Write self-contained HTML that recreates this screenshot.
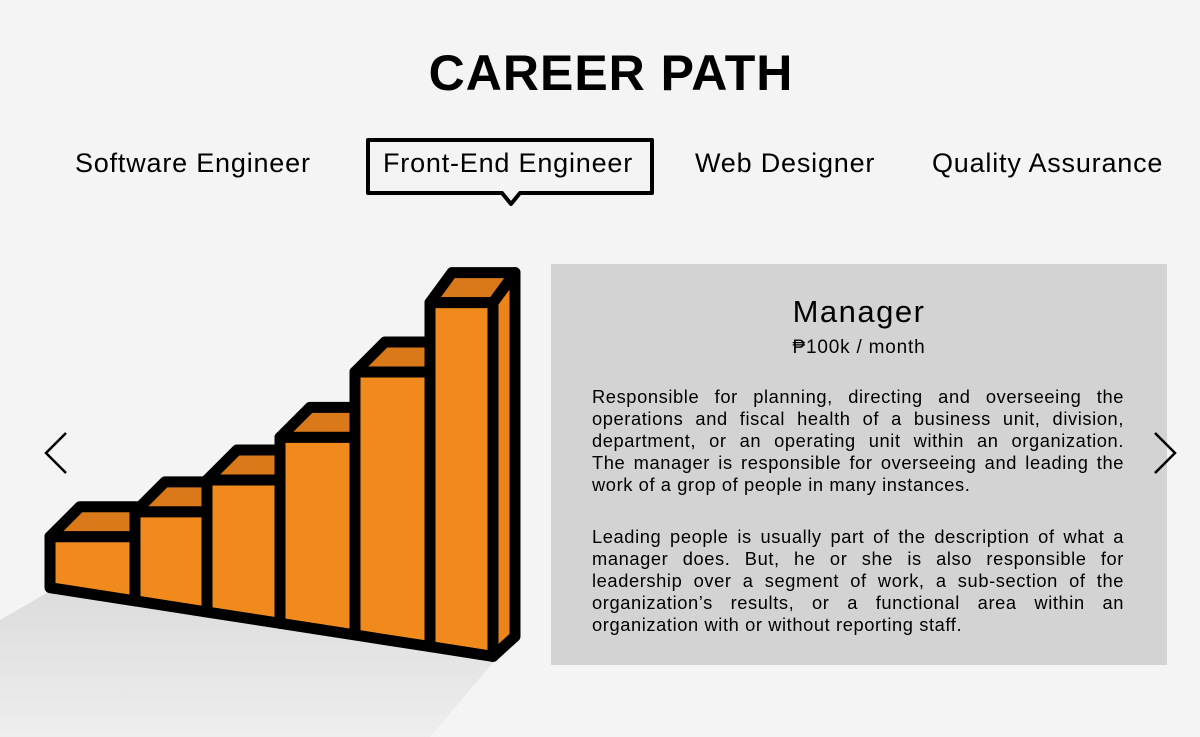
<!DOCTYPE html>
<html><head><meta charset="utf-8"><style>
body{margin:0;width:1200px;height:737px;background:#f4f4f4;font-family:"Liberation Sans",sans-serif;color:#000;position:relative;overflow:hidden}
.abs{position:absolute}
h1{position:absolute;left:0;width:1222px;top:44px;margin:0;text-align:center;font-size:50px;font-weight:bold;letter-spacing:1px}
.tab{position:absolute;top:148px;font-size:27px;letter-spacing:0.8px;white-space:nowrap}
#panel{left:551px;top:264px;width:616px;height:401px;background:#d3d3d3}
.p{position:absolute;left:41px;width:532px;font-size:18.3px;letter-spacing:0.6px;line-height:22px}
.p span{display:block;text-align:justify;text-align-last:justify;white-space:nowrap}
.p span.l{text-align-last:left}
</style></head><body>
<h1>CAREER PATH</h1>
<div class="tab" style="left:75px">Software Engineer</div>
<svg class="abs" style="left:360px;top:132px" width="302" height="82"><path d="M8 8 H292 V61 H160 L151 72 L142 61 H8 Z" fill="none" stroke="#000" stroke-width="4" stroke-linejoin="round"/></svg>
<div class="tab" style="left:383px">Front-End Engineer</div>
<div class="tab" style="left:695px">Web Designer</div>
<div class="tab" style="left:932px">Quality Assurance</div>
<div id="panel" class="abs">
<div class="abs" style="left:0;width:616px;top:30px;text-align:center;font-size:31px;letter-spacing:1.5px">Manager</div>
<div class="abs" style="left:0;width:616px;top:73px;text-align:center;font-size:19px;letter-spacing:0.8px">₱100k / month</div>
<div class="p" style="top:122px"><span>Responsible for planning, directing and overseeing the</span><span>operations and fiscal health of a business unit, division,</span><span>department, or an operating unit within an organization.</span><span>The manager is responsible for overseeing and leading the</span><span class="l">work of a grop of people in many instances.</span></div>
<div class="p" style="top:262px"><span>Leading people is usually part of the description of what a</span><span>manager does. But, he or she is also responsible for</span><span>leadership over a segment of work, a sub-section of the</span><span>organization’s results, or a functional area within an</span><span class="l">organization with or without reporting staff.</span></div>
</div>
<svg class="abs" style="left:0;top:0" width="1200" height="737">
<defs><linearGradient id="sh" x1="0" y1="0" x2="0" y2="1"><stop offset="0" stop-color="#dcdcdc"/><stop offset="1" stop-color="#eeeeee"/></linearGradient></defs>
<polygon points="52,590 497,658 430,737 0,737 0,620" fill="url(#sh)"/>
<g id="bars"></g>
<path d="M66 433 L46 453 L66 473" fill="none" stroke="#000" stroke-width="2.5"/>
<path d="M1155 433 L1175 453 L1155 473" fill="none" stroke="#000" stroke-width="2.5"/>
</svg>
<script>
const levels=["L1","L2","L3","L4","L5","L6"];
const values=[51,89,132,186,263,344];
const xEdges=[50,135,207,280,355,430,493];
const NS="http://www.w3.org/2000/svg";
const g=document.getElementById('bars');
function base(x){return 588+(x-52)*(69/445);}
function yTop(i){return base(xEdges[i])-values[i];}
const dx=30,dy=30;
function poly(pts,fill,name){const p=document.createElementNS(NS,'polygon');p.setAttribute('points',pts.map(a=>a.join(',')).join(' '));p.setAttribute('fill',fill);p.setAttribute('stroke','#000');p.setAttribute('stroke-width','11');p.setAttribute('stroke-linejoin','round');


g.appendChild(p);}
for(let i=0;i<levels.length;i++){
 const x0=xEdges[i],x1=xEdges[i+1],t=yTop(i);
 const last=i===levels.length-1;
 const ddx=last?22:dx;
 if(last){poly([[x1,t],[x1+ddx,t-dy],[x1+ddx,base(x1)-20],[x1,base(x1)]],'#ec8519','bar-side-'+levels[i]);}
 poly([[x0,t],[x0+ddx,t-dy],[x1+ddx,t-dy],[x1,t]],'#d9791a','bar-top-'+levels[i]);
 poly([[x0,t],[x1,t],[x1,base(x1)],[x0,base(x0)]],'#f08a1c','bar-'+levels[i]);
}
</script>
</body></html>
